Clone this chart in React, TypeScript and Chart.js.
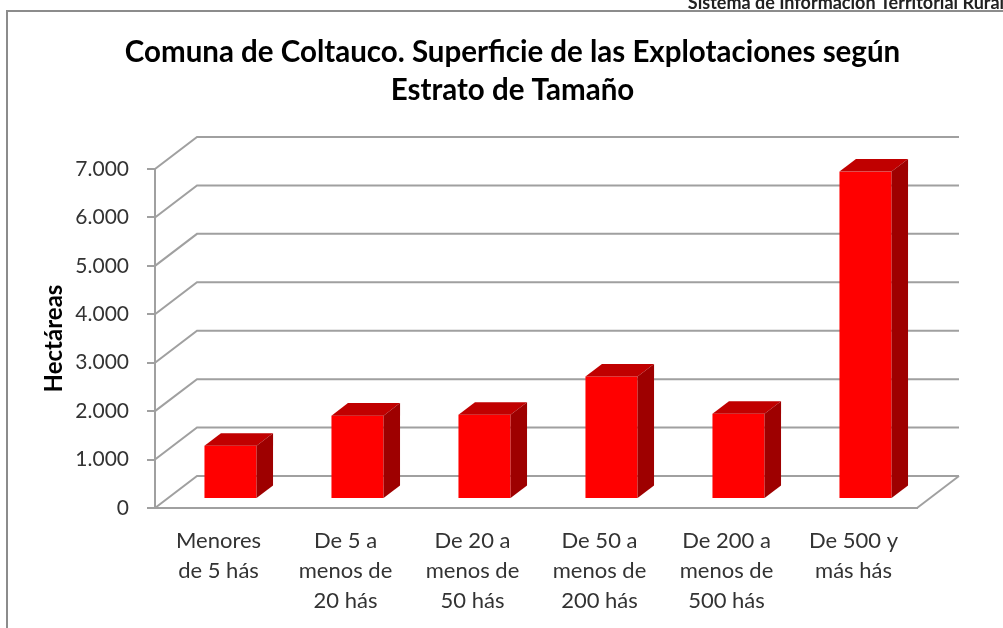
import React, { useEffect, useRef } from "react";
import { Chart, registerables } from "chart.js";

Chart.register(...registerables);

const categories: string[][] = [
  ["Menores", "de 5 hás"],
  ["De 5 a", "menos de", "20 hás"],
  ["De 20 a", "menos de", "50 hás"],
  ["De 50 a", "menos de", "200 hás"],
  ["De 200 a", "menos de", "500 hás"],
  ["De 500 y", "más hás"],
];
const superficie: number[] = [1100, 1720, 1740, 2530, 1760, 6760];
const yTickLabels: string[] = ["0", "1.000", "2.000", "3.000", "4.000", "5.000", "6.000", "7.000"];
const titleLines: string[] = ["Comuna de Coltauco. Superficie de las Explotaciones según", "Estrato de Tamaño"];
const yAxisTitle = "Hectáreas";
const sourceText = "Sistema de Información Territorial Rural";

const GRID = "#a0a0a0";
const FRONT = "#ff0000";
const TOP = "#c00000";
const SIDE = "#9e0000";
const DX = 42; // wall depth
const DY = 32;
const FX = 12; // bar front offset within depth
const FY = 9;
const BX = 16.5; // bar depth
const BY = 12.6;

const depthPlugin = {
  id: "depth3d",
  beforeDraw(chart: any) {
    const ctx = chart.ctx;
    ctx.save();
    ctx.fillStyle = "#ffffff";
    ctx.fillRect(0, 0, chart.width, chart.height);
    ctx.strokeStyle = "#8c8c8c";
    ctx.lineWidth = 2;
    ctx.beginPath();
    ctx.moveTo(7, chart.height);
    ctx.lineTo(7, 11);
    ctx.lineTo(chart.width, 11);
    ctx.stroke();
    ctx.fillStyle = "#222222";
    ctx.font = "bold 18px Lato";
    ctx.textAlign = "right";
    ctx.textBaseline = "alphabetic";
    ctx.fillText(sourceText, chart.width + 1, 8.5);
    ctx.restore();
  },
  beforeDatasetsDraw(chart: any) {
    const { ctx, chartArea } = chart;
    const { left, right, bottom } = chartArea;
    const y = chart.scales.y;
    ctx.save();
    ctx.strokeStyle = GRID;
    ctx.lineWidth = 2;
    y.ticks.forEach((t: any) => {
      const py = y.getPixelForValue(t.value);
      ctx.beginPath();
      ctx.moveTo(left, py);
      ctx.lineTo(left + DX, py - DY);
      ctx.lineTo(right + DX, py - DY);
      ctx.stroke();
    });
    ctx.beginPath();
    ctx.moveTo(right, bottom);
    ctx.lineTo(right + DX, bottom - DY);
    ctx.stroke();
    ctx.restore();
  },
  afterDatasetsDraw(chart: any) {
    const ctx = chart.ctx;
    const meta = chart.getDatasetMeta(0);
    ctx.save();
    meta.data.forEach((el: any) => {
      const { x, y, base, width } = el.getProps(["x", "y", "base", "width"], true);
      const xl = x - width / 2 + FX;
      const xr = x + width / 2 + FX;
      const yt = y - FY;
      const yb = base - FY;
      ctx.fillStyle = FRONT;
      ctx.fillRect(xl, yt, xr - xl, yb - yt);
      ctx.fillStyle = TOP;
      ctx.beginPath();
      ctx.moveTo(xl, yt);
      ctx.lineTo(xr, yt);
      ctx.lineTo(xr + BX, yt - BY);
      ctx.lineTo(xl + BX, yt - BY);
      ctx.closePath();
      ctx.fill();
      ctx.fillStyle = SIDE;
      ctx.beginPath();
      ctx.moveTo(xr, yt);
      ctx.lineTo(xr + BX, yt - BY);
      ctx.lineTo(xr + BX, yb - BY);
      ctx.lineTo(xr, yb);
      ctx.closePath();
      ctx.fill();
    });
    ctx.restore();
  },
};

export default function App() {
  const ref = useRef<HTMLCanvasElement | null>(null);
  useEffect(() => {
    if (!ref.current) return;
    const chart = new Chart(ref.current, {
      type: "bar",
      data: {
        labels: categories,
        datasets: [
          {
            label: "Superficie",
            data: superficie,
            backgroundColor: "rgba(0,0,0,0)",
            borderWidth: 0,
            barPercentage: 0.41,
            categoryPercentage: 1,
          },
        ],
      },
      options: {
        animation: false,
        responsive: false,
        devicePixelRatio: 1,
        layout: { padding: { left: 22, right: 0, top: 0, bottom: 0 } },
        plugins: {
          legend: { display: false },
          tooltip: { enabled: false },
          title: {
            display: true,
            text: titleLines,
            color: "#000000",
            font: { family: "Lato", weight: "bold", size: 29.5, lineHeight: 38 / 29.5 },
            padding: { top: 33, bottom: 60 },
          },
        },
        scales: {
          x: {
            grid: { display: false, drawTicks: false },
            border: { display: true, color: GRID, width: 2 },
            ticks: {
              color: "#333333",
              font: { family: "Lato", size: 22, lineHeight: 30 / 22 },
              padding: 18,
              maxRotation: 0,
              autoSkip: false,
            },
            afterFit: (s: any) => {
              s.height = 120;
            },
          },
          y: {
            min: 0,
            max: 7000,
            grid: { display: true, drawOnChartArea: false, drawTicks: true, tickLength: 8, color: GRID, lineWidth: 2 },
            border: { display: true, color: GRID, width: 2 },
            ticks: {
              stepSize: 1000,
              color: "#333333",
              font: { family: "Lato", size: 21 },
              padding: 18,
              callback: (_v: any, i: number) => yTickLabels[i],
            },
            title: {
              display: true,
              text: yAxisTitle,
              color: "#000000",
              font: { family: "Lato", weight: "bold", size: 24 },
              padding: { top: 18, bottom: 0 },
            },
            afterFit: (s: any) => {
              s.width = 133;
            },
          },
          y2: {
            position: "right",
            display: true,
            grid: { display: false, drawTicks: false },
            border: { display: false },
            ticks: { display: false },
            afterFit: (s: any) => {
              s.width = 86;
            },
          },
        },
      },
      plugins: [depthPlugin],
    });
    return () => chart.destroy();
  }, []);
  return (
    <canvas
      ref={ref}
      width={1003}
      height={628}
      style={{ position: "absolute", left: 0, top: 0, display: "block" }}
    />
  );
}
